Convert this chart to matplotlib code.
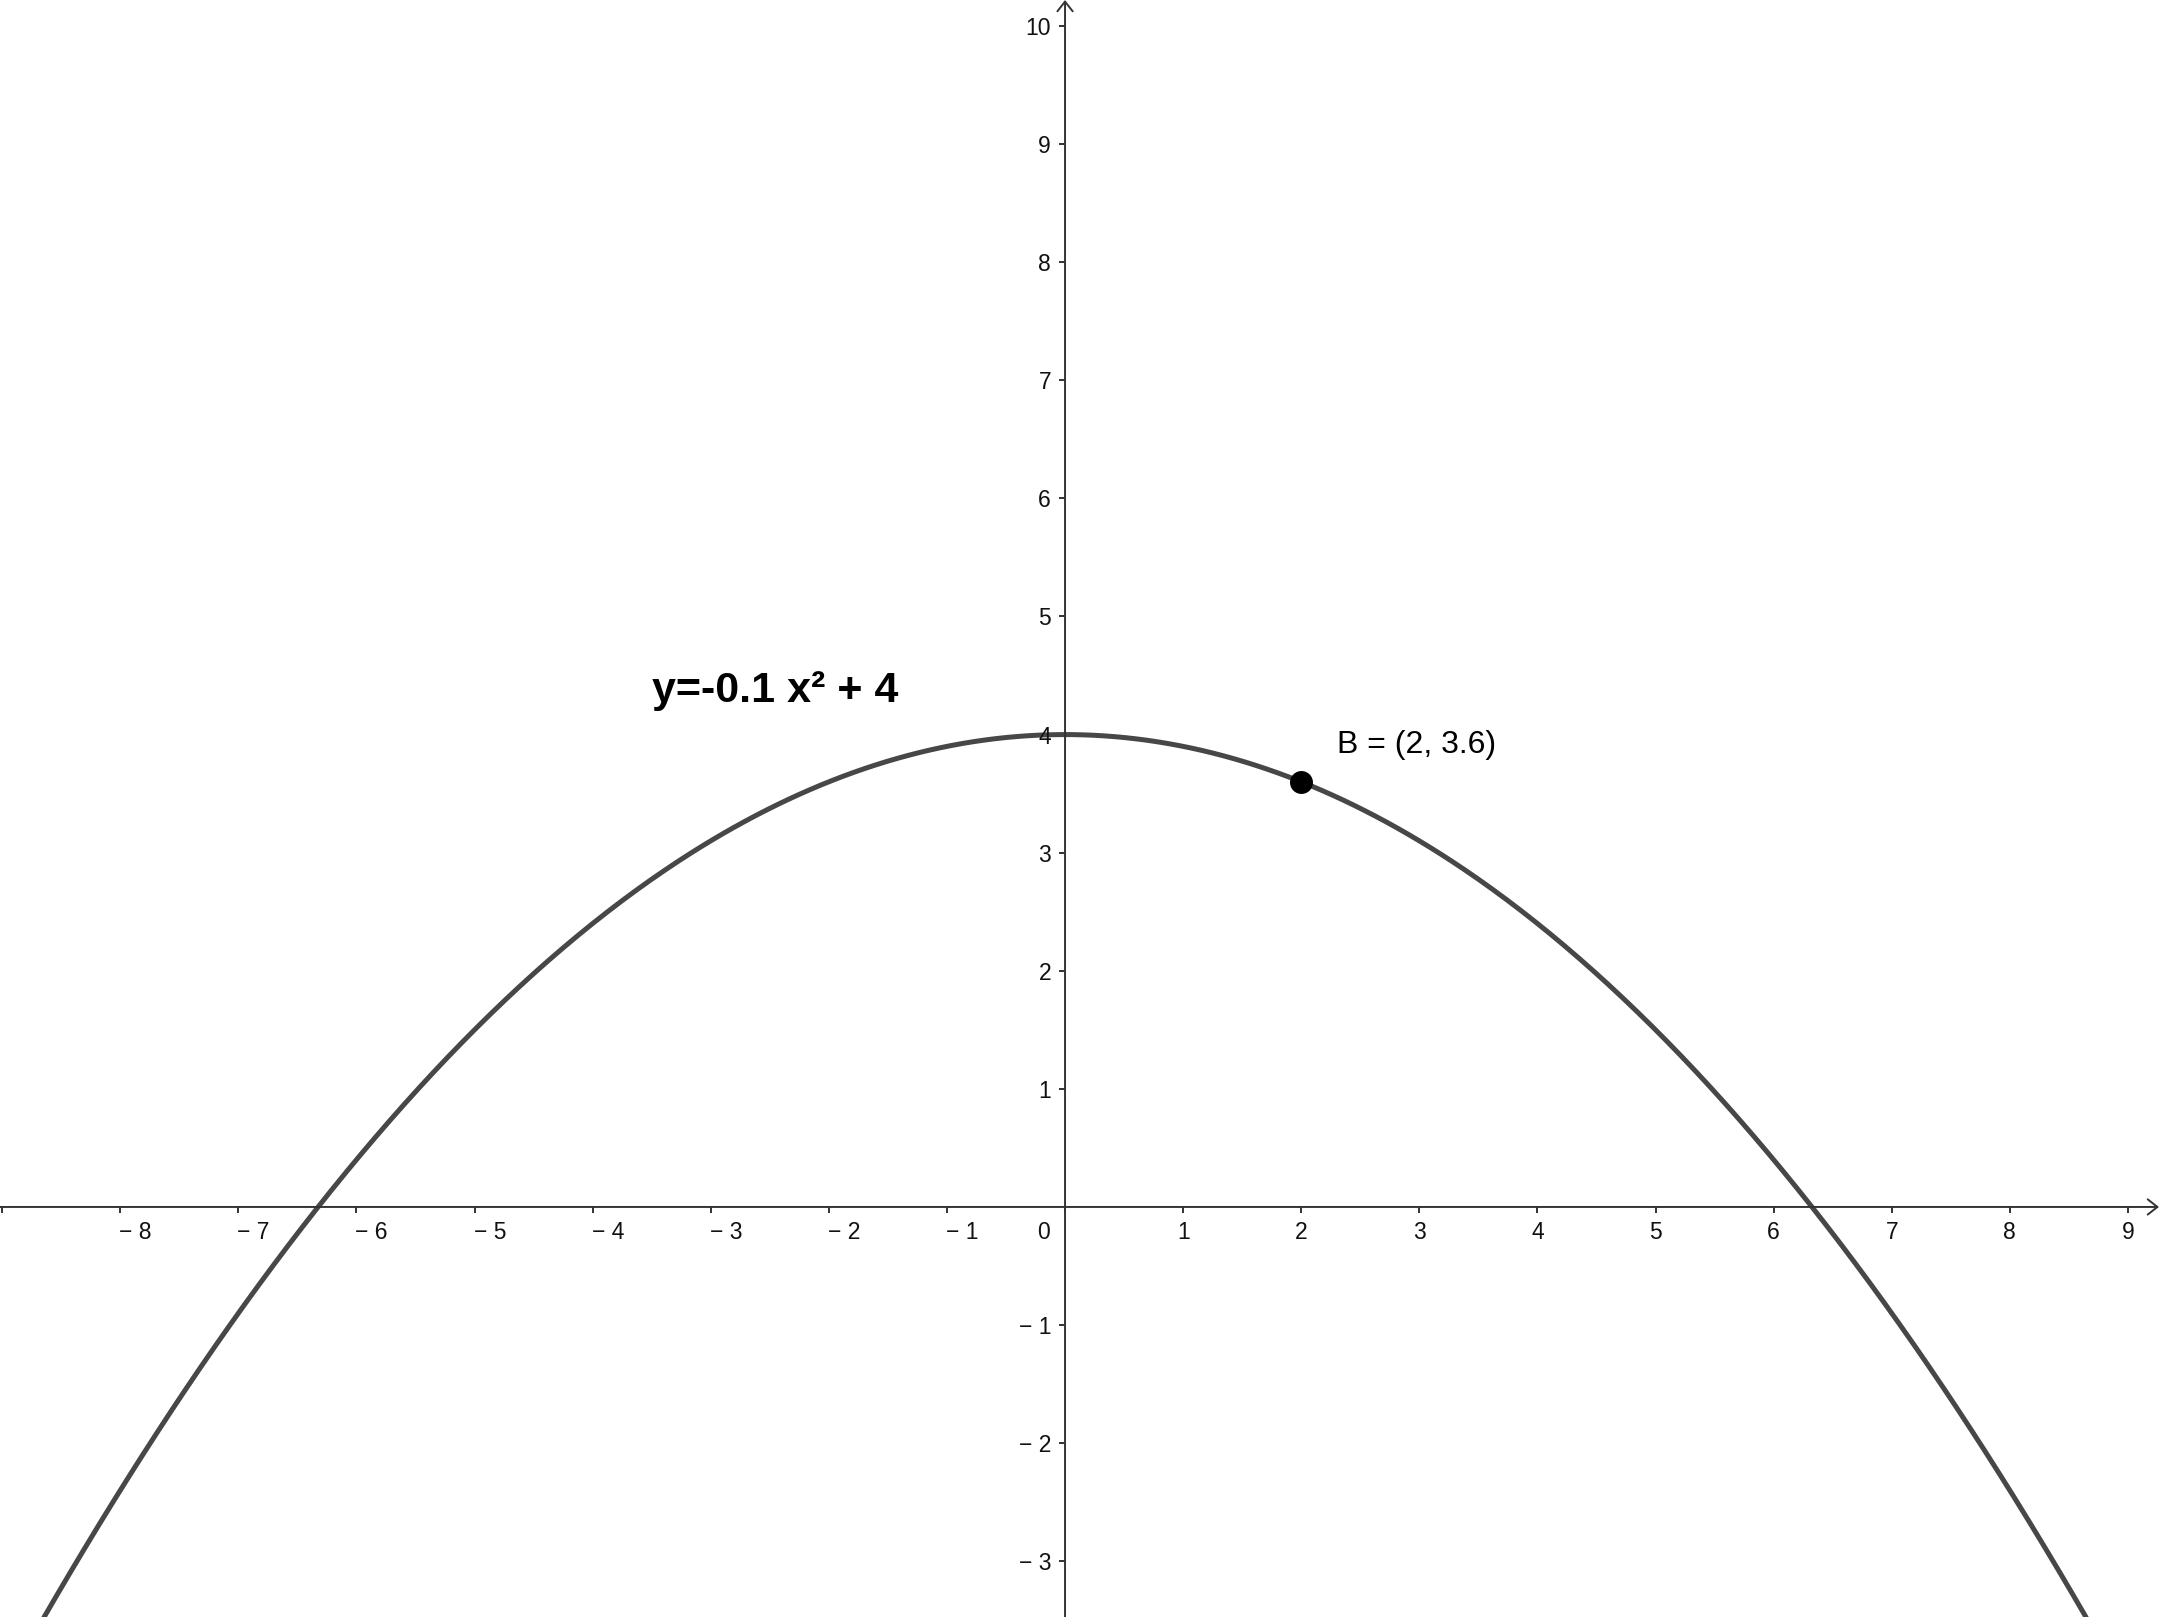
import numpy as np
import matplotlib
matplotlib.use("Agg")
import matplotlib.pyplot as plt
import matplotlib.transforms as mtransforms

plt.rcParams['font.family'] = ['Liberation Sans', 'DejaVu Sans']

# parabola y = a x^2 + c, and the point B on it
a = -0.1
c = 4
b_x, b_y = 2, 3.6
func_label = "y=-0.1 x\u00b2 + 4"
b_label = "B = (2, 3.6)"

x_ticks = list(range(-9, 10))
x_labels = [str(v) for v in range(-8, 10) if v != 0]
x_label_vals = [v for v in range(-8, 10) if v != 0]
y_ticks = [v for v in range(-3, 11) if v != 0]

axis_col = "#333333"
curve_col = "#474747"

fig = plt.figure(figsize=(21.59, 16.17), dpi=100)
ax = fig.add_axes([0, 0, 1, 1])
ax.set_xlim(-9.018, 9.263)
ax.set_ylim(-3.472, 10.22)
ax.axis('off')

# axes with open arrow heads
arrow = dict(arrowstyle='->,head_length=0.7,head_width=0.55', color=axis_col,
             lw=1.4, shrinkA=0, shrinkB=0)
ax.annotate('', xy=(1, 0), xycoords=('axes fraction', 'data'),
            xytext=(0, 0), textcoords=('axes fraction', 'data'), arrowprops=arrow)
ax.annotate('', xy=(0, 1), xycoords=('data', 'axes fraction'),
            xytext=(0, 0), textcoords=('data', 'axes fraction'), arrowprops=arrow)

# tick marks
ax.plot(x_ticks, np.zeros(len(x_ticks)), ls='', marker=3, ms=4.3, mew=1.4, color=axis_col)
ax.plot(np.zeros(len(y_ticks)), y_ticks, ls='', marker=0, ms=4.3, mew=1.4, color=axis_col)

# tick labels
below = mtransforms.offset_copy(ax.transData, fig=fig, x=0, y=-14, units='dots')
below_l = mtransforms.offset_copy(ax.transData, fig=fig, x=-1, y=-14, units='dots')
for v, s in zip(x_label_vals, x_labels):
    if v < 0:
        ax.text(v, 0, "\u2212 " + s[1:], transform=below_l, ha='left', va='top',
                fontsize=16.5, color='#111111')
    else:
        ax.text(v, 0, s, transform=below, ha='center', va='top',
                fontsize=16.5, color='#111111')
zero_tr = mtransforms.offset_copy(ax.transData, fig=fig, x=-22, y=-14, units='dots')
ax.text(0, 0, "0", transform=zero_tr, ha='center', va='top', fontsize=16.5, color='#111111')

left = mtransforms.offset_copy(ax.transData, fig=fig, x=-14, y=0, units='dots')
for v in y_ticks:
    s = ("\u2212 " + str(-v)) if v < 0 else str(v)
    ax.text(0, v, s, transform=left, ha='right', va='center_baseline',
            fontsize=16.5, color='#111111')

# the curve
xs = np.linspace(-9.1, 9.3, 600)
ax.plot(xs, a * xs ** 2 + c, color=curve_col, lw=3.6, solid_capstyle='butt')

# point B
ax.plot([b_x], [b_y], 'o', color='black', ms=15.5, zorder=5)
ax.text(2.303, 3.844, b_label, fontsize=23, ha='left', va='baseline', color='black')

# function label
ax.text(-3.497, 4.276, func_label, fontsize=31, fontweight='bold',
        ha='left', va='baseline', color='black')

fig.savefig("out.png", dpi=100)
